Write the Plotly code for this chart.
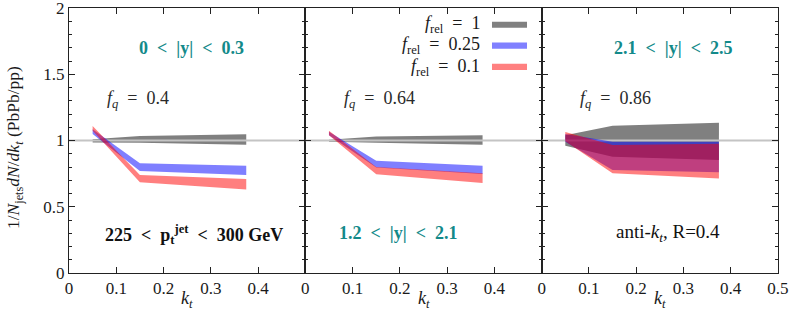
import plotly.graph_objects as go

# ---------------- data ----------------
kt = [0.05, 0.15, 0.375]

# panel 1 : 0 < |y| < 0.3
p1_gray_lo = [0.985, 0.983, 0.968]
p1_gray_hi = [1.010, 1.034, 1.047]
p1_blue_lo = [1.050, 0.770, 0.740]
p1_blue_hi = [1.085, 0.828, 0.810]
p1_red_lo = [1.074, 0.684, 0.630]
p1_red_hi = [1.109, 0.740, 0.709]

# panel 2 : 1.2 < |y| < 2.1
p2_gray_lo = [0.990, 0.983, 0.968]
p2_gray_hi = [1.005, 1.030, 1.040]
p2_blue_lo = [1.040, 0.797, 0.747]
p2_blue_hi = [1.066, 0.848, 0.810]
p2_red_lo = [1.040, 0.745, 0.680]
p2_red_hi = [1.074, 0.800, 0.752]

# panel 3 : 2.1 < |y| < 2.5
p3_gray_lo = [0.960, 0.878, 0.853]
p3_gray_hi = [1.040, 1.112, 1.134]
p3_blue_lo = [0.990, 0.777, 0.760]
p3_blue_hi = [1.050, 0.991, 0.991]
p3_red_lo = [0.995, 0.752, 0.714]
p3_red_hi = [1.064, 0.966, 0.976]

SP = "\u2002"  # en space (math-like spacing around relations)
series_labels = [f"<i>f</i><sub>rel</sub>{SP}={SP}1",
                 f"<i>f</i><sub>rel</sub>{SP}={SP}0.25",
                 f"<i>f</i><sub>rel</sub>{SP}={SP}0.1"]
fq_labels = [f"<i>f<sub>q</sub></i>{SP}={SP}0.4",
             f"<i>f<sub>q</sub></i>{SP}={SP}0.64",
             f"<i>f<sub>q</sub></i>{SP}={SP}0.86"]
rap_labels = [f"0{SP}&lt;{SP}|y|{SP}&lt;{SP}0.3",
              f"1.2{SP}&lt;{SP}|y|{SP}&lt;{SP}2.1",
              f"2.1{SP}&lt;{SP}|y|{SP}&lt;{SP}2.5"]
x_tickvals = [0, 0.1, 0.2, 0.3, 0.4, 0.5]
x_ticktext_short = ["0", "0.1", "0.2", "0.3", "0.4", " "]
x_ticktext_full = ["0", "0.1", "0.2", "0.3", "0.4", "0.5"]

# ---------------- style ----------------
FONT = "Liberation Serif, Times New Roman, serif"
TEAL = "#138a8a"
GRAY = "rgb(128,128,128)"
BLUE = "rgba(0,0,255,0.5)"
RED = "rgba(255,0,0,0.5)"
LEG_COLORS = ["#808080", "#8080ff", "#ff8080"]
AXC = "#222222"
TS = 18  # annotation text size

panels = [
    (p1_gray_lo, p1_gray_hi, p1_blue_lo, p1_blue_hi, p1_red_lo, p1_red_hi),
    (p2_gray_lo, p2_gray_hi, p2_blue_lo, p2_blue_hi, p2_red_lo, p2_red_hi),
    (p3_gray_lo, p3_gray_hi, p3_blue_lo, p3_blue_hi, p3_red_lo, p3_red_hi),
]

fig = go.Figure()


def band(lo, hi, color, xa, ya):
    return go.Scatter(
        x=kt + kt[::-1], y=hi + lo[::-1], fill="toself", fillcolor=color,
        mode="lines", line=dict(width=0), hoverinfo="skip", showlegend=False,
        xaxis=xa, yaxis=ya,
    )


for i, (glo, ghi, blo, bhi, rlo, rhi) in enumerate(panels):
    xa = "x" if i == 0 else f"x{i+1}"
    ya = "y" if i == 0 else f"y{i+1}"
    fig.add_trace(band(glo, ghi, GRAY, xa, ya))
    fig.add_trace(go.Scatter(x=[0, 0.5], y=[1, 1], mode="lines",
                             line=dict(color="#c4c4c4", width=2),
                             hoverinfo="skip", showlegend=False, xaxis=xa, yaxis=ya))
    fig.add_trace(band(blo, bhi, BLUE, xa, ya))
    fig.add_trace(band(rlo, rhi, RED, xa, ya))

common_x = dict(range=[0, 0.5], showline=True, linecolor=AXC, linewidth=1, mirror="allticks",
                ticks="inside", ticklen=6, tickcolor=AXC, tickmode="array", tickvals=x_tickvals,
                showgrid=False, zeroline=False, automargin=False, ticklabeloverflow="allow",
                tickfont=dict(family=FONT, size=17, color="#1a1a1a"))
common_y = dict(range=[0, 2], showline=True, linecolor=AXC, linewidth=1, mirror="allticks",
                ticks="inside", ticklen=6, tickcolor=AXC, tickmode="linear", tick0=0, dtick=0.5,
                showgrid=False, zeroline=False, automargin=False, ticklabeloverflow="allow",
                minor=dict(dtick=0.1, tick0=0, ticks="inside", ticklen=3,
                           tickcolor=AXC, showgrid=False),
                tickfont=dict(family=FONT, size=17, color="#1a1a1a"))

domains = [[0, 1 / 3], [1 / 3, 2 / 3], [2 / 3, 1]]
layout = dict(
    width=789, height=315,
    margin=dict(l=69, r=11, t=8, b=42),
    paper_bgcolor="white", plot_bgcolor="white",
    showlegend=False,
    font=dict(family=FONT, size=17, color="#1a1a1a"),
)
for i in range(3):
    xk = "xaxis" if i == 0 else f"xaxis{i+1}"
    yk = "yaxis" if i == 0 else f"yaxis{i+1}"
    ya = "y" if i == 0 else f"y{i+1}"
    xd = dict(common_x, domain=domains[i], anchor=ya,
              ticktext=x_ticktext_full if i == 2 else x_ticktext_short)
    yd = dict(common_y, domain=[0, 1], anchor="x" if i == 0 else f"x{i+1}",
              showticklabels=(i == 0))
    layout[xk] = xd
    layout[yk] = yd
fig.update_layout(**layout)

ann = []
# rapidity labels
for txt, xv, yv, xr, yr in [(rap_labels[0], 0.26, 1.70, "x", "y"),
                            (rap_labels[1], 0.197, 0.30, "x2", "y2"),
                            (rap_labels[2], 0.277, 1.70, "x3", "y3")]:
    ann.append(dict(x=xv, y=yv, xref=xr, yref=yr, text="<b>" + txt + "</b>",
                    font=dict(color=TEAL, size=TS, family=FONT), showarrow=False))
# fq labels
for i, (xv, xr, yr) in enumerate([(0.146, "x", "y"), (0.156, "x2", "y2"), (0.157, "x3", "y3")]):
    ann.append(dict(x=xv, y=1.306, xref=xr, yref=yr, text=fq_labels[i],
                    font=dict(color="#2a2a2a", size=TS, family=FONT), showarrow=False))
# other labels
ann.append(dict(x=0.265, y=0.29, xref="x", yref="y",
                text=f"<b>225{SP}&lt;{SP}p<sub>t</sub><sup>jet</sup>{SP}&lt;{SP}300 GeV</b>",
                font=dict(color="#111111", size=TS, family=FONT), showarrow=False))
ann.append(dict(x=0.268, y=0.30, xref="x3", yref="y3",
                text="anti-<i>k<sub>t</sub></i>, R=0.4",
                font=dict(color="#111111", size=TS + 1, family=FONT), showarrow=False))
# axis titles
ann.append(dict(x=-0.076, y=0.472, xref="paper", yref="paper", textangle=-90,
                text="1/<i>N</i><sub>jets</sub><i>dN</i>/<i>dk<sub>t</sub></i> (PbPb/pp)",
                font=dict(size=17.5, family=FONT, color="#1a1a1a"), showarrow=False,
                xanchor="center", yanchor="middle"))
for i, xr in enumerate(["x domain", "x2 domain", "x3 domain"]):
    ann.append(dict(x=0.5, y=-0.10, xref=xr, yref="paper", text="<i>k<sub>t</sub></i>",
                    font=dict(size=18, family=FONT, color="#1a1a1a"), showarrow=False,
                    yanchor="middle"))
# legend
leg_y = [0.936, 0.857, 0.777]
for i in range(3):
    ann.append(dict(x=0.5825, y=leg_y[i], xref="paper", yref="paper", text=series_labels[i],
                    xanchor="right", yanchor="middle",
                    font=dict(size=TS, family=FONT, color="#1a1a1a"), showarrow=False))
    fig.add_shape(type="rect", xref="paper", yref="paper", x0=0.5966, x1=0.646,
                  y0=leg_y[i] + 0.001 - 0.0115, y1=leg_y[i] + 0.001 + 0.0115,
                  fillcolor=LEG_COLORS[i], line=dict(width=0), layer="above")
fig.update_layout(annotations=ann)

fig.write_html("out.html", config={"displayModeBar": False},
               post_script="document.body.style.margin='0px';")
